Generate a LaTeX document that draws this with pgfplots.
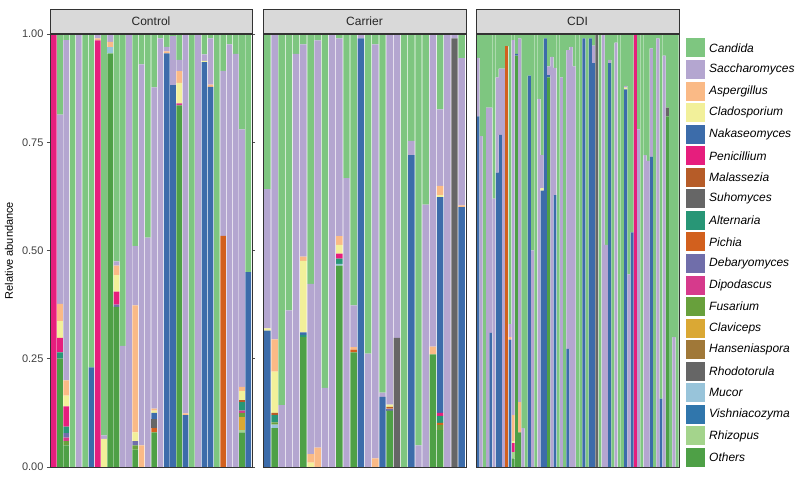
\documentclass[border=0pt]{standalone}
\usepackage{fontspec}
\setmainfont{Liberation Sans}
\usepackage{pgfplots}
\usepackage{pgfplotstable}
\pgfplotsset{compat=1.18}

\definecolor{cCan}{RGB}{126,198,128}
\definecolor{cSac}{RGB}{180,166,208}
\definecolor{cAsp}{RGB}{250,186,134}
\definecolor{cCla}{RGB}{242,240,154}
\definecolor{cNak}{RGB}{60,108,170}
\definecolor{cPen}{RGB}{230,30,125}
\definecolor{cMal}{RGB}{182,92,40}
\definecolor{cSuh}{RGB}{102,102,102}
\definecolor{cAlt}{RGB}{40,150,118}
\definecolor{cPic}{RGB}{210,96,30}
\definecolor{cDeb}{RGB}{112,110,170}
\definecolor{cDip}{RGB}{214,58,140}
\definecolor{cFus}{RGB}{104,160,60}
\definecolor{cClv}{RGB}{218,168,52}
\definecolor{cHan}{RGB}{160,120,56}
\definecolor{cRho}{RGB}{102,102,102}
\definecolor{cMuc}{RGB}{152,196,218}
\definecolor{cVis}{RGB}{48,118,172}
\definecolor{cRhi}{RGB}{164,212,140}
\definecolor{cOth}{RGB}{78,160,70}
\definecolor{stripgrey}{RGB}{217,217,217}

% Control
\pgfplotstableread{
x  Oth  Rhi  Muc  Clv  Fus  Dip  Deb  Pic  Alt  Suh  Mal  Pen  Nak  Cla  Asp  Sac  Can
0  0    0    0    0    0    0    0    0    0    0    0    1    0    0    0    0    0
1  .25  0    0    0    0    0    0    0    .015 0    0    .033 0    .039 .04  .437 .186
2  .05  0    0    0    .01  .008 .01  0    .015 0    0    .047 0    .025 .035 .786 .014
3  0    0    0    0    0    0    0    0    0    0    0    0    0    0    0    0    1
4  0    0    0    0    0    0    0    0    0    0    0    0    0    0    0    1    0
5  0    0    0    0    0    0    0    0    0    0    0    0    0    0    0    0    1
6  0    0    0    0    0    0    0    0    0    0    0    0    .23  0    0    0    .77
7  0    0    0    0    0    0    0    0    0    0    0    .985 0    0    .005 .01  0
8  0    0    0    0    0    0    0    0    0    0    0    0    0    .065 0    .008 .927
9  .955 0    .015 0    0    0    0    0    0    0    0    0    0    0    .012 .018 0
10 .37  0    0    0    0    0    .005 0    0    0    0    .03  0    .038 .022 .01  .525
11 0    0    0    0    0    0    0    0    0    0    0    0    0    0    0    .28  .72
12 0    0    0    0    0    0    0    0    0    0    0    0    0    0    0    1    0
13 .04  0    0    0    .01  0    .01  0    0    0    0    0    0    .02  .293 .137 .49
14 0    0    0    0    0    0    0    0    0    0    0    0    0    0    .05  .88  .07
15 0    0    0    0    0    0    0    0    0    0    0    0    0    0    0    .53  .47
16 .08  0    0    0    0    0    0    .01  0    .02  0    0    .015 .005 .005 .742 .123
17 0    0    0    0    0    0    0    0    0    0    0    0    0    0    0    .99  .01
18 0    0    0    0    0    0    0    0    0    0    0    0    .955 0    .005 .01  .03
19 0    0    0    0    0    0    0    0    0    0    0    0    .882 0    0    .113 .005
20 .835 0    0    0    0    .005 0    0    0    0    0    0    0    .047 .027 .026 .06
21 0    0    0    0    0    0    0    0    0    0    0    0    .12  0    .004 .876 0
22 0    0    0    0    0    0    0    0    0    0    0    0    0    0    0    0    1
23 0    0    0    0    0    0    0    0    0    0    0    0    0    0    0    1    0
24 0    0    0    0    0    0    0    0    0    0    0    0    .935 .003 0    .015 .047
25 0    0    0    0    0    0    0    0    0    0    0    0    .878 0    .005 .107 .01
26 0    0    0    0    0    0    0    0    0    0    0    0    0    0    0    0    1
27 0    0    0    0    0    0    0    .534 0    0    0    0    0    0    0    .381 .085
28 0    0    0    0    0    0    0    0    0    0    0    0    0    0    0    .976 .024
29 0    0    0    0    0    0    0    0    0    0    0    0    0    0    0    .954 .046
30 .08  .005 0    .03  .01  .005 0    0    .02  0    .005 0    0    .02  .01  .595 .22
31 0    0    0    0    0    0    0    0    0    0    0    0    .45  0    0    0    .55
}\tCtrl

% Carrier
\pgfplotstableread{
x  Oth  Muc  Fus  Dip  Deb  Pic  Alt  Suh  Mal  Pen  Nak  Cla  Asp  Sac  Can
0  0    0    0    0    0    0    0    0    0    0    .315 .005 0    .322 .358
1  .09  .008 .005 0    0    0    .017 0    .005 0    0    .095 .075 .705 0
2  0    0    0    0    0    0    0    0    0    0    0    0    0    .143 .857
3  0    0    0    0    0    0    0    0    0    0    0    0    0    .362 .638
4  0    0    0    0    0    0    0    0    0    0    0    0    0    .954 .046
5  .3   0    0    0    0    0    .005 0    0    0    .006 .165 .01  .49  .024
6  0    0    0    0    0    0    0    0    0    0    0    .01  .02  .393 .577
7  0    0    0    0    0    0    0    0    0    0    0    0    .045 .94  .015
8  0    0    0    0    0    0    0    0    0    0    0    0    0    .183 .817
9  0    0    0    0    0    0    0    0    0    0    0    0    0    1    0
10 .465 .004 0    0    0    0    .012 0    0    .012 0    .02  .02  .457 .01
11 0    0    0    0    0    0    0    0    0    0    0    0    0    .667 .333
12 .265 0    0    0    0    .006 0    0    0    0    0    0    .006 .096 .627
13 0    0    0    0    0    0    0    0    0    0    .99  0    0    .01  0
14 0    0    0    0    0    0    0    0    0    0    0    0    0    .262 .738
15 0    0    0    0    0    0    0    0    0    0    0    0    .02  .956 .024
16 0    0    0    0    0    0    0    0    0    0    .162 0    0    .01  .828
17 .13  0    0    0    .005 0    0    0    .004 0    0    .005 0    .856 0
18 0    0    0    0    0    0    0    .298 0    0    0    0    0    .702 0
19 0    0    0    0    0    0    0    0    0    0    0    0    0    0    1
20 0    0    0    0    0    0    0    0    0    0    .72  0    0    .033 .247
21 0    0    0    0    0    0    0    0    0    0    0    0    0    .05  .95
22 0    0    0    0    0    0    0    0    0    0    0    0    0    .606 .394
23 .26  0    0    0    0    0    0    0    0    0    0    0    .018 .722 0
24 .085 0    .012 0    0    .005 .016 0    0    .007 .498 .005 .021 .177 .174
25 0    0    0    0    0    0    0    0    0    0    0    0    0    1    0
26 0    0    0    0    0    0    0    .99  0    0    0    0    0    .01  0
27 0    0    0    0    0    0    0    0    0    0    .6   0    .004 .34  .056
}\tCarr

% CDI
\pgfplotstableread{
x  Oth  Rhi  Rho  Pic  Pen  Nak  Cla  Asp  Sac  Can
0  0    0    0    0    0    .81  0    0    .135 .055
1  0    0    0    0    0    0    0    0    .764 .236
2  0    0    0    0    0    0    0    0    0    1
3  0    0    0    0    0    0    0    0    .83  .17
4  0    0    0    0    0    .31  0    0    .52  .17
5  0    0    0    0    0    0    0    0    .62  .38
6  0    0    0    0    0    .68  0    0    .22  .10
7  0    0    0    0    0    .767 0    0    .153 .08
8  0    0    0    0    0    0    0    0    .92  .08
9  0    0    0    .972 0    0    0    0    0    .028
10 0    0    0    0    0    .294 0    .006 .03  .67
11 .02  .015 0    0    .02  0    .005 .06  .866 .014
12 .95  0    0    0    0    .004 0    0    0    .046
13 .08  0    0    0    0    0    0    .07  .84  .01
14 0    0    0    0    0    0    0    0    .09  .91
15 0    0    0    0    0    0    0    0    0    1
16 0    0    0    0    0    .904 0    0    0    .096
17 0    0    0    0    0    0    0    0    .5   .5
18 0    0    0    0    0    0    0    0    0    1
19 0    0    0    0    0    0    0    0    .85  .15
20 0    0    0    0    0    .638 .006 0    .076 .28
21 0    0    0    0    0    .99  0    0    0    .01
22 .9   0    0    0    0    .005 0    0    .02  .075
23 0    0    0    0    0    0    0    0    .947 .053
24 0    0    0    0    0    .628 0    0    .294 .078
25 0    0    0    0    0    0    0    0    0    1
26 0    0    0    0    0    0    0    0    .9   .1
27 0    0    0    0    0    0    0    0    0    1
28 0    0    0    0    0    .273 0    0    .69  .037
29 0    0    0    0    0    0    0    0    .97  .03
30 0    0    0    0    0    0    0    0    .925 .075
31 0    0    0    0    0    0    0    0    0    1
32 0    0    0    0    0    0    0    0    0    1
33 0    0    0    0    0    .99  0    0    0    .01
34 0    0    0    0    0    0    0    0    0    1
35 0    0    0    0    0    .99  0    0    0    .01
36 0    0    0    0    0    .933 0    0    .04  .027
37 0    0    1    0    0    0    0    0    0    0
38 0    0    0    0    0    0    0    0    0    1
39 0    0    0    0    0    0    0    0    1    0
40 0    0    0    0    0    0    0    0    .513 .487
41 0    0    0    0    0    .933 0    0    .007 .06
42 0    0    0    0    0    0    0    0    0    1
43 0    0    0    0    0    0    0    0    .98  .02
44 0    0    0    0    0    0    0    0    0    1
45 0    0    0    0    0    0    0    0    0    1
46 0    0    0    0    0    .872 .004 0    .004 .12
47 0    0    0    0    0    0    0    0    .445 .555
48 0    0    0    0    0    .542 0    0    0    .458
49 0    0    0    0    1    0    0    0    0    0
50 0    0    0    0    0    0    0    0    .78  .22
51 0    0    0    0    0    0    0    0    0    1
52 0    0    0    0    0    0    0    0    .72  .28
53 0    0    0    0    0    0    0    0    .707 .293
54 0    0    0    0    0    .717 0    0    .25  .033
55 0    0    0    0    0    0    0    0    0    1
56 0    0    0    0    0    0    0    0    .99  .01
57 0    0    0    0    0    .158 0    0    0    .842
58 0    0    0    0    0    0    0    0    .95  .05
59 .81  0    .02  0    0    0    0    0    0    .17
60 0    0    0    0    0    0    0    0    0    1
61 0    0    0    0    0    0    0    0    .3   .7
62 0    0    0    0    0    0    0    0    0    1
}\tCdi

\pgfplotsset{
  panel/.style={
    scale only axis, anchor=south west, height=433pt,
    ymin=0, ymax=1, ybar stacked, bar width=0.9,
    xtick=\empty, axis on top,
    axis line style={black!80, line width=0.7pt},
    tick style={black!70, line width=0.6pt},
    tick align=outside, major tick length=3pt,
    ticklabel style={font=\fontsize{11}{11}\selectfont, text=black!75},
    yticklabel style={/pgf/number format/fixed, /pgf/number format/fixed zerofill,
      /pgf/number format/precision=2},
    /pgf/number format/assume math mode=true,
  },
}
\newcommand\pc[2]{\addplot[fill=c#1, draw=none] table[x=x, y=#1] {#2};}

\begin{document}
\begin{tikzpicture}
\useasboundingbox (0pt,0pt) rectangle (800pt,503pt);

\begin{axis}[panel, at={(50pt,36pt)}, width=202pt, xmin=-0.6, xmax=31.6,
  ytick={0,0.25,0.5,0.75,1}]
\pc{Oth}{\tCtrl}\pc{Rhi}{\tCtrl}\pc{Muc}{\tCtrl}\pc{Clv}{\tCtrl}\pc{Fus}{\tCtrl}
\pc{Dip}{\tCtrl}\pc{Deb}{\tCtrl}\pc{Pic}{\tCtrl}\pc{Alt}{\tCtrl}\pc{Suh}{\tCtrl}
\pc{Mal}{\tCtrl}\pc{Pen}{\tCtrl}\pc{Nak}{\tCtrl}\pc{Cla}{\tCtrl}\pc{Asp}{\tCtrl}
\pc{Sac}{\tCtrl}\pc{Can}{\tCtrl}
\end{axis}

\begin{axis}[panel, at={(263pt,36pt)}, width=203pt, xmin=-0.6, xmax=27.6, ytick=\empty]
\pc{Oth}{\tCarr}\pc{Muc}{\tCarr}\pc{Fus}{\tCarr}\pc{Dip}{\tCarr}\pc{Deb}{\tCarr}
\pc{Pic}{\tCarr}\pc{Alt}{\tCarr}\pc{Suh}{\tCarr}\pc{Mal}{\tCarr}\pc{Pen}{\tCarr}
\pc{Nak}{\tCarr}\pc{Cla}{\tCarr}\pc{Asp}{\tCarr}\pc{Sac}{\tCarr}\pc{Can}{\tCarr}
\end{axis}

\begin{axis}[panel, at={(476pt,36pt)}, width=203pt, xmin=-0.6, xmax=62.6, ytick=\empty]
\pc{Oth}{\tCdi}\pc{Rhi}{\tCdi}\pc{Rho}{\tCdi}\pc{Pic}{\tCdi}\pc{Pen}{\tCdi}
\pc{Nak}{\tCdi}\pc{Cla}{\tCdi}\pc{Asp}{\tCdi}\pc{Sac}{\tCdi}\pc{Can}{\tCdi}
\end{axis}

% facet strips
\foreach \xa/\xb/\lab in {50/252/Control, 263/466/Carrier, 476/679/CDI} {
  \draw[fill=stripgrey, draw=black!80, line width=0.6pt] (\xa pt,469.5pt) rectangle (\xb pt,494pt);
  \node[font=\fontsize{12}{12}\selectfont, text=black!85] at ({(\xa+\xb)/2*1pt},482pt) {\lab};
}

\node[rotate=90, font=\fontsize{11}{11}\selectfont] at (9pt,252.5pt) {Relative abundance};

% legend
\foreach \nm/\cl [count=\i from 0] in {Candida/cCan, Saccharomyces/cSac, Aspergillus/cAsp,
  Cladosporium/cCla, Nakaseomyces/cNak, Penicillium/cPen, Malassezia/cMal, Suhomyces/cSuh,
  Alternaria/cAlt, Pichia/cPic, Debaryomyces/cDeb, Dipodascus/cDip, Fusarium/cFus,
  Claviceps/cClv, Hanseniaspora/cHan, Rhodotorula/cRho, Mucor/cMuc, Vishniacozyma/cVis,
  Rhizopus/cRhi, Others/cOth} {
  \fill[\cl] (686pt,{(445.5-21.55*\i)*1pt}) rectangle ++(19pt,19pt);
  \node[anchor=west, inner sep=0pt, font=\itshape\fontsize{12}{12}\selectfont]
    at (709pt,{(455-21.55*\i)*1pt}) {\nm};
}
\end{tikzpicture}
\end{document}
